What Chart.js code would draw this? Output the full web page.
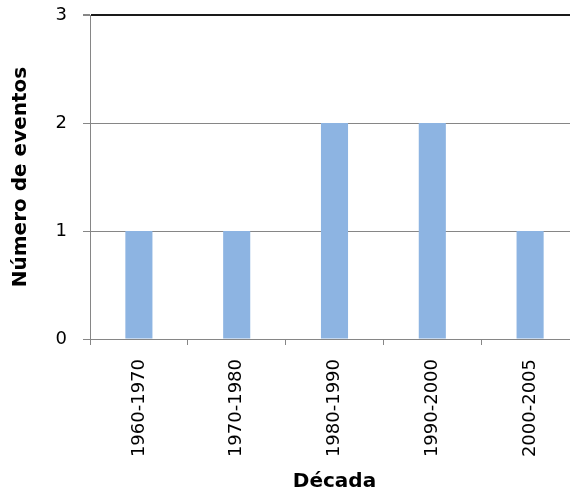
<!DOCTYPE html>
<html>
<head>
<meta charset="utf-8">
<script src="https://cdn.jsdelivr.net/npm/chart.js@4/dist/chart.umd.min.js"></script>
<style>
  html, body { margin: 0; padding: 0; background: #fff; overflow: hidden; }
  #wrap { width: 580px; height: 494px; }
</style>
</head>
<body>
<div id="wrap"><canvas id="chart" width="580" height="494"></canvas></div>
<script>
// events per decade
const decades = ['1960-1970', '1970-1980', '1980-1990', '1990-2000', '2000-2005'];
const eventCounts = [1, 1, 2, 2, 1];
const yTicks = [0, 1, 2, 3];

const GRID = '#868686';

new Chart(document.getElementById('chart'), {
  type: 'bar',
  data: {
    labels: decades,
    datasets: [{
      data: eventCounts,
      backgroundColor: '#8DB4E2',
      borderWidth: 0,
      categoryPercentage: 1,
      barPercentage: 0.277,
    }]
  },
  options: {
    responsive: false,
    animation: false,
    devicePixelRatio: 1,
    layout: { padding: { top: 15, right: 1, bottom: 0, left: 0 } },
    plugins: { legend: { display: false }, tooltip: { enabled: false } },
    scales: {
      x: {
        grid: { drawOnChartArea: false, drawTicks: true, tickLength: 6, color: GRID, lineWidth: 1 },
        border: { color: GRID, width: 1 },
        ticks: {
          minRotation: 90, maxRotation: 90, padding: 14, color: '#000',
          font: { family: 'DejaVu Sans', size: 18 }
        },
        title: {
          display: true, text: 'Década', color: '#000',
          font: { family: 'DejaVu Sans', size: 20, weight: 'bold' },
          padding: { top: 0, bottom: 0 }
        },
        afterFit: s => { s.height = 155; s.paddingLeft = 0; s.paddingRight = 0; }
      },
      y: {
        min: yTicks[0], max: yTicks[yTicks.length - 1],
        afterBuildTicks: s => { s.ticks = yTicks.map(v => ({ value: v })); },
        grid: {
          tickLength: 7,
          color: ctx => (ctx.tick && ctx.tick.value === 3) ? '#1a1a1a' : GRID,
          lineWidth: ctx => (ctx.tick && ctx.tick.value === 3) ? 2 : 1,
          tickColor: GRID
        },
        border: { color: GRID, width: 1 },
        ticks: {
          padding: 16, color: '#000',
          font: { family: 'DejaVu Sans', size: 18 }
        },
        title: {
          display: true, text: 'Número de eventos', color: '#000',
          font: { family: 'DejaVu Sans', size: 20, weight: 'bold' },
          padding: { top: 9, bottom: 0 }
        },
        afterFit: s => { s.width = 90; s.paddingTop = 0; s.paddingBottom = 0; }
      }
    }
  }
});
</script>
</body>
</html>
